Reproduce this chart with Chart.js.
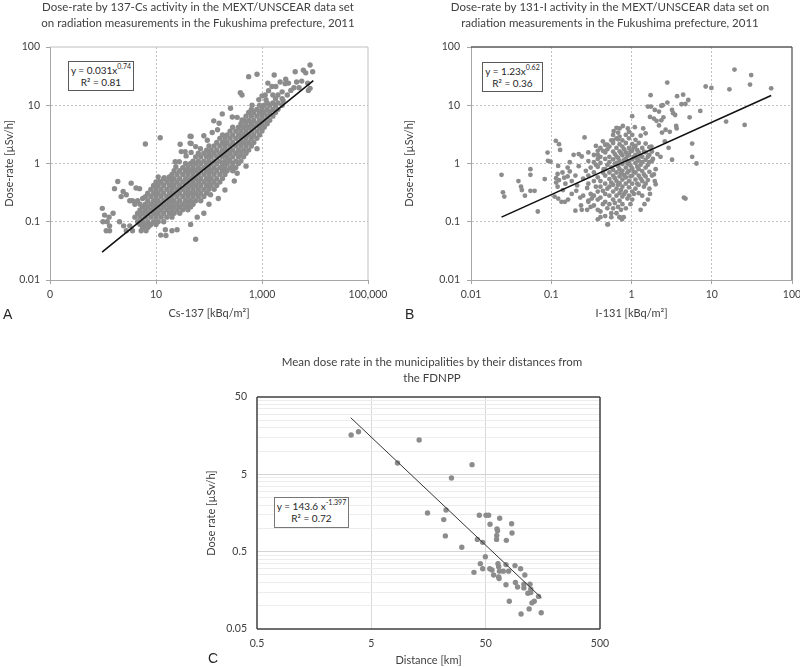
<!DOCTYPE html>
<html><head><meta charset="utf-8">
<script src="https://cdn.jsdelivr.net/npm/chart.js@4.4.0/dist/chart.umd.min.js"></script>
<style>
html,body{margin:0;padding:0;background:#fff;}
body{width:800px;height:667px;overflow:hidden;position:relative;font-family:Lato,sans-serif;}
canvas{position:absolute;}
.eq{position:absolute;background:#fff;border:1px solid #595959;font:10px Lato,sans-serif;color:#262626;text-align:center;line-height:12px;box-sizing:border-box;padding-top:2px;white-space:nowrap}
.eq sup{font-size:7px;line-height:7px;vertical-align:top;position:relative;top:-1px}
.letter{position:absolute;font:14px "Liberation Sans",Arial,sans-serif;color:#262626;line-height:14px}
</style></head>
<body>
<canvas id="cA" width="400" height="330" style="left:0;top:0"></canvas>
<canvas id="cB" width="410" height="330" style="left:400px;top:0"></canvas>
<canvas id="cC" width="420" height="337" style="left:200px;top:330px"></canvas>
<div class="eq" style="left:68px;top:61px;width:66px;height:30px">y = 0.031x<sup>0.74</sup><br>R² = 0.81</div>
<div class="eq" style="left:482px;top:62px;width:61px;height:30px">y = 1.23x<sup>0.62</sup><br>R² = 0.36</div>
<div class="eq" style="left:274px;top:497px;width:75px;height:31px;border-color:#777">y = 143.6 x<sup>-1.397</sup><br>R² = 0.72</div>
<div class="letter" style="left:3px;top:307px">A</div>
<div class="letter" style="left:405px;top:307px">B</div>
<div class="letter" style="left:208px;top:651px">C</div>
<script>
// ---------- titles ----------
const aTitle = ['Dose-rate by 137-Cs activity in the MEXT/UNSCEAR data set', 'on radiation measurements in the Fukushima prefecture, 2011'];
const bTitle = ['Dose-rate by 131-I activity in the MEXT/UNSCEAR data set on', 'radiation measurements in the Fukushima prefecture, 2011'];
const cTitle = ['Mean dose rate in the municipalities by their distances from', 'the FDNPP'];

// ---------- tick values / labels ----------
const aXTicks = [0.1, 10, 1000, 100000];
const aXLabels = ['0', '10', '1,000', '100,000'];
const doseTicks = [0.01, 0.1, 1, 10, 100];
const doseLabels = ['0.01', '0.1', '1', '10', '100'];
const bXTicks = [0.01, 0.1, 1, 10, 100];
const bXLabels = ['0.01', '0.1', '1', '10', '100'];
const cXTicks = [0.5, 5, 50, 500];
const cXLabels = ['0.5', '5', '50', '500'];
const cYTicks = [0.05, 0.5, 5, 50];
const cYLabels = ['0.05', '0.5', '5', '50'];
const cMinorSteps = [2, 3, 4, 5, 6, 7, 8, 9];

// ---------- panel A: Cs-137 [kBq/m2] vs dose-rate [uSv/h] ----------
// dense band, read column by column: [activity, [dose-rates]]
const csBand = [
 [4, [0.12, 0.2]],
 [4.5, [0.1, 0.14, 0.23]],
 [5, [0.09, 0.12, 0.16, 0.2]],
 [5.6, [0.08, 0.1, 0.14, 0.18, 0.25]],
 [6.3, [0.09, 0.12, 0.16, 0.2, 0.27]],
 [7, [0.08, 0.1, 0.14, 0.18, 0.23, 0.31]],
 [8, [0.09, 0.12, 0.16, 0.2, 0.27, 0.36]],
 [9, [0.1, 0.14, 0.18, 0.23, 0.31, 0.42]],
 [10, [0.09, 0.12, 0.16, 0.2, 0.27, 0.36, 0.48]],
 [11, [0.1, 0.14, 0.18, 0.23, 0.31, 0.42]],
 [12.5, [0.12, 0.16, 0.2, 0.27, 0.36, 0.48]],
 [14, [0.1, 0.14, 0.18, 0.23, 0.31, 0.42, 0.55]],
 [16, [0.12, 0.16, 0.2, 0.27, 0.36, 0.48]],
 [18, [0.14, 0.18, 0.23, 0.31, 0.42, 0.55]],
 [20, [0.12, 0.16, 0.2, 0.27, 0.36, 0.48, 0.65]],
 [22, [0.14, 0.18, 0.23, 0.31, 0.42, 0.55, 0.75]],
 [25, [0.16, 0.2, 0.27, 0.36, 0.48, 0.65]],
 [28, [0.14, 0.18, 0.23, 0.31, 0.42, 0.55, 0.75]],
 [32, [0.16, 0.2, 0.27, 0.36, 0.48, 0.65, 0.85]],
 [36, [0.18, 0.23, 0.31, 0.42, 0.55, 0.75, 1]],
 [40, [0.16, 0.2, 0.27, 0.36, 0.48, 0.65, 0.85]],
 [45, [0.18, 0.23, 0.31, 0.42, 0.55, 0.75, 1]],
 [50, [0.2, 0.27, 0.36, 0.48, 0.65, 0.85, 1.1]],
 [56, [0.23, 0.31, 0.42, 0.55, 0.75, 1, 1.3]],
 [63, [0.27, 0.36, 0.48, 0.65, 0.85, 1.1, 1.5]],
 [70, [0.23, 0.31, 0.42, 0.55, 0.75, 1, 1.3]],
 [80, [0.27, 0.36, 0.48, 0.65, 0.85, 1.1, 1.5]],
 [90, [0.31, 0.42, 0.55, 0.75, 1, 1.3, 1.7]],
 [100, [0.36, 0.48, 0.65, 0.85, 1.1, 1.5, 2]],
 [110, [0.42, 0.55, 0.75, 1, 1.3, 1.7]],
 [125, [0.36, 0.48, 0.65, 0.85, 1.1, 1.5, 2]],
 [140, [0.42, 0.55, 0.75, 1, 1.3, 1.7, 2.3]],
 [160, [0.48, 0.65, 0.85, 1.1, 1.5, 2, 2.7]],
 [180, [0.55, 0.75, 1, 1.3, 1.7, 2.3, 3.1]],
 [200, [0.65, 0.85, 1.1, 1.5, 2, 2.7]],
 [220, [0.75, 1, 1.3, 1.7, 2.3, 3.1]],
 [250, [0.85, 1.1, 1.5, 2, 2.7, 3.6]],
 [280, [0.75, 1, 1.3, 1.7, 2.3, 3.1, 4.2]],
 [320, [0.85, 1.1, 1.5, 2, 2.7, 3.6]],
 [360, [1, 1.3, 1.7, 2.3, 3.1, 4.2]],
 [400, [1.1, 1.5, 2, 2.7, 3.6, 4.8]],
 [450, [1.3, 1.7, 2.3, 3.1, 4.2, 5.5]],
 [500, [1.5, 2, 2.7, 3.6, 4.8, 6.5]],
 [560, [1.7, 2.3, 3.1, 4.2, 5.5, 7.5]],
 [630, [2, 2.7, 3.6, 4.8, 6.5, 8.5]],
 [700, [2.3, 3.1, 4.2, 5.5, 7.5]],
 [800, [2.7, 3.6, 4.8, 6.5, 8.5]],
 [900, [3.1, 4.2, 5.5, 7.5, 10]],
 [1000, [3.6, 4.8, 6.5, 8.5]],
 [1100, [4.2, 5.5, 7.5, 10]],
 [1250, [4.8, 6.5, 8.5, 11]],
 [1400, [5.5, 7.5, 10]],
 [1600, [6.5, 8.5, 11, 15]],
 [1800, [7.5, 10, 13]],
 [2000, [8.5, 11, 15]],
 [2400, [10, 13, 17]]
];
// scattered points around the band: [activity, dose-rate]
const csScatter = [
 [0.97,0.17],[1.07,0.13],[1.3,0.12],[1.55,0.14],[1.2,0.1],[1.0,0.1],[1.33,0.085],[1.15,0.07],[1.33,0.07],
 [2.05,0.1],[2.45,0.085],[2.75,0.07],[3.2,0.085],[3.6,0.07],[5.25,0.07],[6.5,0.07],[7.5,0.085],
 [12.3,0.059],[15,0.073],[20,0.07],[15.4,0.058],[25,0.073],
 [1.9,0.49],[1.65,0.37],[3.4,0.46],[4.2,0.38],[4.9,0.37],[2.4,0.33],[2.2,0.27],[2.75,0.29],[3.2,0.23],[3.6,0.23],
 [6.3,2.16],[12,2.76],[44,2.95],[28.6,2.14],[44,2.24],[35.5,1.6],[30,1.6],[46,1.55],[37,1.35],
 [23,1.07],[27.5,1.07],[23.7,0.88],[11,0.59],[14.3,0.57],[17.8,0.59],[11.5,0.49],[56,0.05],
 [560,31],[805,34],[1700,33],[1290,24],[1540,21],[1820,21],[2200,25],[2740,23.5],[3160,24],
 [4230,37.7],[6030,40],[6680,36],[8070,49],[9040,37.7],[5620,26],[8070,19.5],[7280,23.8],[7500,18],[5000,20],[4500,25],
 [390,16.4],[420,15],[1330,17.8],[1150,15],[1000,14.5],[1190,12.4],
 [255,8.9],[650,10],[870,12.5],[178,7.1],[275,6.3],[340,6.2],[420,5.6],
 [123,5.4],[155,4.9],[115,3.4],[145,3.8],[80,3],[93,2.5],[69,1.8],[56,1.95],[46,2.9],[46,2.2],
 [805,1.8],[340,0.68],[295,0.83],[237,1.15],[178,0.88],[107,0.29],
 [45,0.09],[60,0.12],[80,0.14],[100,0.2],[150,0.25],[200,0.35],[300,0.5],[500,0.9],
 [2500,12],[3000,15],[3500,18],[4000,20],[2800,28]
];
const csTrend = [[0.96, 0.03], [9300, 26.5]];

// ---------- panel B: I-131 [kBq/m2] vs dose-rate [uSv/h] ----------
const iCore = [
 [0.29, [0.22, 0.45, 0.62, 1.1, 1.55]],
 [0.31, [0.18, 0.3, 0.85]],
 [0.34, [0.19, 0.28, 0.5, 0.7, 1.05, 1.4]],
 [0.36, [0.4, 0.95, 2.0]],
 [0.38, [0.16, 0.24, 0.33, 0.58, 0.88, 1.2, 1.65]],
 [0.41, [0.15, 0.26, 0.4, 0.5, 1.02, 1.3, 1.85]],
 [0.44, [0.2, 0.34, 0.7, 2.4]],
 [0.47, [0.125, 0.22, 0.3, 0.45, 0.62, 0.8, 1.2, 1.55, 2.1]],
 [0.5, [0.17, 0.37, 0.95, 1.75]],
 [0.53, [0.2, 0.28, 0.4, 0.54, 0.7, 1.05, 1.3, 1.95]],
 [0.56, [0.14, 0.47, 0.86, 2.5]],
 [0.59, [0.17, 0.24, 0.33, 0.43, 0.62, 0.78, 1.18, 1.6, 2.25, 3.1]],
 [0.62, [0.21, 0.56, 0.98, 1.45]],
 [0.65, [0.14, 0.28, 0.37, 0.5, 0.7, 1.02, 1.32, 1.85, 2.7]],
 [0.68, [0.18, 0.43, 0.9, 1.25, 3.4]],
 [0.71, [0.12, 0.23, 0.31, 0.46, 0.6, 0.8, 1.12, 1.62, 2.15, 2.9, 4.0]],
 [0.74, [0.16, 0.35, 0.68, 1.5]],
 [0.77, [0.2, 0.27, 0.4, 0.53, 0.75, 0.98, 1.38, 1.95, 2.5]],
 [0.81, [0.3, 0.63, 1.15, 1.75]],
 [0.85, [0.17, 0.33, 0.45, 0.58, 0.85, 1.2, 1.55, 2.25, 3.1]],
 [0.89, [0.25, 0.7, 1.0, 1.35]],
 [0.93, [0.28, 0.39, 0.5, 0.75, 1.05, 1.4, 1.85, 2.7, 3.5]],
 [0.97, [0.2, 0.6, 0.92, 1.6]],
 [1.02, [0.24, 0.33, 0.45, 0.62, 0.82, 1.18, 1.65, 2.15, 3.1]],
 [1.07, [0.3, 0.72, 1.3, 1.9]],
 [1.12, [0.37, 0.53, 0.7, 1.02, 1.4, 2.0, 2.55]],
 [1.18, [0.45, 0.88, 1.2, 1.7]],
 [1.23, [0.31, 0.43, 0.62, 0.8, 1.12, 1.55, 2.25]],
 [1.3, [0.55, 0.95, 1.35]],
 [1.36, [0.28, 0.5, 0.74, 1.05, 1.3, 1.85]],
 [1.43, [0.4, 0.65, 1.6]],
 [1.5, [0.45, 0.6, 0.85, 1.15, 1.55, 2.2]],
 [1.6, [0.52, 0.95, 1.3]],
 [1.67, [0.37, 0.72, 1.05, 1.4, 1.9]],
 [1.8, [0.62, 1.1, 1.6]]
];
const iScatter = [
 [0.024,0.64],[0.025,0.32],[0.026,0.27],[0.039,0.5],[0.042,0.4],[0.043,0.35],[0.047,0.28],[0.055,0.8],[0.055,0.64],
 [0.055,0.34],[0.062,0.34],[0.083,0.54],[0.068,0.15],[0.09,1.54],[0.091,1.11],[0.098,1.08],[0.114,2.45],[0.125,2.15],
 [0.129,1.71],[0.122,0.91],[0.12,0.66],[0.138,0.7],[0.115,0.56],[0.125,0.52],[0.115,0.47],[0.12,0.4],[0.145,0.57],
 [0.11,0.27],[0.122,0.25],[0.134,0.22],[0.148,0.22],[0.162,0.24],
 [0.17,1.05],[0.17,0.73],[0.19,1.41],[0.22,1.45],[0.24,1.32],[0.26,2.8],[0.205,0.34],[0.23,0.26],[0.25,0.28],
 [0.2,0.155],[0.24,0.16],[0.28,0.16],[0.235,0.19],[0.29,0.23],[0.32,0.25],[0.33,0.28],[0.38,0.11],[0.5,0.09],
 [0.38,1.41],[0.44,1.65],[0.5,2.1],[0.59,2.48],[0.68,2.6],[0.65,4.1],[0.78,4.4],[0.56,0.12],[0.76,0.11],[0.8,0.12],
 [0.15,0.45],[0.16,0.6],[0.18,0.5],[0.2,0.62],[0.21,0.42],[0.22,0.9],[0.25,0.55],[0.27,0.75],[0.28,0.38],[0.18,0.3],
 [0.14,0.35],[0.16,0.85],[0.41,0.12],[0.51,0.09],[0.71,0.12],
 [2.79,24.5],[1.73,14.9],[3.7,14.3],[4.4,15.2],[5.1,12.3],[4.2,10.4],[4.7,10.5],[8.4,21],[9.9,19.8],[19.2,41],
 [16.6,18.8],[31,33],[30,22.6],[55,19.5],[15.1,5.25],[25.7,4.6],[7.2,8],[5.3,6.2],[5.7,2.2],[5.7,1.3],[6.45,1.0],
 [3.2,1.16],[2.9,1.86],[4.5,0.26],[4.7,0.25],[3.2,8.3],[3.3,7.3],[3.5,6.8],[3.6,4.4],[3.65,4.0],[2.35,9.8],
 [2.8,11.1],[1.95,8.3],[2.2,7.8],[2.05,5.4],[2.35,5.5],[2.4,3.4],[2.66,3.8],[3.0,3.5],
 [1.77,1.95],[1.85,1.2],[2.0,0.8],[1.95,0.5],[2.0,0.44],[1.7,0.3],[1.9,0.65],[2.1,1.45],[1.6,0.24],[1.45,0.2],[1.3,0.16],
 [2.3,1.3],[2.6,2.4],[2.2,4.5],[2.5,6.2],[1.9,5.9],[1.7,6.3],[1.6,9.5],[1.75,9.5],[2.45,10],[1.4,4.0],[1.5,3.3],
 [1.3,3.0],[1.1,4.2],[1.02,6.5],[0.9,4.0],[0.6,3.6],[0.45,0.8]
];
const iTrend = [[0.024, 0.12], [55, 14.7]];

// ---------- panel C: distance [km] vs mean dose rate [uSv/h] ----------
const distKm = [3.33,3.86,13.1,8.47,38,25.1,15.5,22.5,21.5,22.2,30.9,44,50.4,53.1,54.6,66.3,84.3,85,62.8,63.5,62.5,62.3,
 75.8,42.3,47.1,49.7,44.9,47.1,39.5,54.3,56.8,58.7,64.1,65,66,65,65.5,71.3,75.3,79.4,75.3,80.5,90.2,101,110,91,95,
 108,108,122,124,117,124,145,127,133,120,102,153];
const meanDose = [16.1,17.8,13.9,7.0,6.67,4.49,1.58,1.73,1.30,0.80,0.57,1.48,1.48,1.48,1.13,1.35,1.15,0.87,0.98,0.93,0.81,0.72,
 0.70,0.72,0.66,0.43,0.35,0.30,0.27,0.30,0.29,0.25,0.35,0.32,0.28,0.235,0.225,0.28,0.34,0.28,0.187,0.114,0.33,0.30,0.25,0.20,0.175,
 0.19,0.17,0.19,0.164,0.145,0.148,0.132,0.109,0.114,0.091,0.078,0.081];
const cTrend = [[3.3, 27], [154, 0.126]];

// ---------- helpers ----------
Chart.defaults.font.family = 'Lato, sans-serif';
Chart.defaults.color = '#404040';

const pts = arr => arr.map(([x, y]) => ({x, y}));
const cols = arr => arr.flatMap(([x, ys]) => ys.map(y => ({x, y})));
const same = (a, b) => Math.abs(a - b) <= Math.abs(b) * 1e-9;

function logAxis(o) {
  return {
    type: 'logarithmic', position: o.pos, min: o.min, max: o.max,
    afterBuildTicks: s => { s.ticks = o.values.map(v => ({value: v})); },
    afterFit: s => { if (o.pos === 'left') s.width = o.size; else s.height = o.size; },
    ticks: {
      autoSkip: false, maxRotation: 0, minRotation: 0, padding: o.tickPad,
      font: {size: 10.5}, color: '#404040',
      callback: v => { const i = o.labelValues.findIndex(t => same(v, t)); return i >= 0 ? o.labels[i] : ''; }
    },
    grid: {
      color: ctx => (ctx.tick ? o.gridColor(ctx.tick.value) : 'rgba(0,0,0,0)'),
      lineWidth: 1,
      drawTicks: o.tickLen > 0, tickLength: o.tickLen, tickColor: '#a6a6a6', tickWidth: 1
    },
    border: {display: o.border, color: '#a6a6a6', width: 1, dash: o.dash || []},
    title: {display: true, text: o.title, font: {size: 11}, color: '#404040', padding: o.titlePad}
  };
}

const titlePlugin = {
  id: 'panelTitle',
  afterDraw(chart, args, opts) {
    const ctx = chart.ctx;
    ctx.save();
    ctx.font = `${opts.size}px Lato, sans-serif`;
    ctx.fillStyle = '#404040';
    ctx.textAlign = 'center';
    ctx.textBaseline = 'middle';
    opts.lines.forEach((t, i) => ctx.fillText(t, opts.x, opts.y + i * opts.lh));
    ctx.restore();
  }
};
const framePlugin = {
  id: 'frame',
  afterDatasetsDraw(chart, args, opts) {
    const {ctx, chartArea: a} = chart;
    ctx.save();
    ctx.lineWidth = opts.width;
    ctx.strokeStyle = opts.color;
    ctx.beginPath();
    opts.sides.forEach(s => {
      if (s === 'top') { ctx.moveTo(a.left, a.top); ctx.lineTo(a.right, a.top); }
      if (s === 'right') { ctx.moveTo(a.right, a.top); ctx.lineTo(a.right, a.bottom); }
      if (s === 'bottom') { ctx.moveTo(a.left, a.bottom); ctx.lineTo(a.right, a.bottom); }
      if (s === 'left') { ctx.moveTo(a.left, a.top); ctx.lineTo(a.left, a.bottom); }
    });
    ctx.stroke();
    ctx.restore();
  }
};

function dashedGrid(min, max) {
  return v => (same(v, min) || same(v, max)) ? 'rgba(0,0,0,0)' : '#bfbfbf';
}

function makeChart(id, cfg) {
  return new Chart(document.getElementById(id), {
    type: 'scatter',
    data: {datasets: [
      {data: pts(cfg.trend), showLine: true, borderColor: cfg.trendColor, borderWidth: cfg.trendWidth, pointRadius: 0, fill: false},
      {data: cfg.points, pointRadius: cfg.r, pointBackgroundColor: '#8c8c8c', pointBorderWidth: 0, showLine: false}
    ]},
    options: {
      responsive: false, animation: false, events: [],
      layout: {padding: cfg.padding},
      plugins: {legend: {display: false}, tooltip: {enabled: false},
        panelTitle: cfg.title, frame: cfg.frame},
      scales: {x: cfg.x, y: cfg.y}
    },
    plugins: [titlePlugin, framePlugin]
  });
}

// ---------- Panel A ----------
makeChart('cA', {
  trend: csTrend, trendColor: '#111', trendWidth: 1.6, r: 2.7,
  points: cols(csBand).concat(pts(csScatter)),
  padding: {left: 0, top: 47, right: 32, bottom: 10},
  title: {lines: aTitle, x: 198, y: 7.5, lh: 15.5, size: 11.5},
  frame: {sides: ['top', 'right'], color: '#bfbfbf', width: 1},
  x: logAxis({pos: 'bottom', min: 0.1, max: 100000, values: aXTicks, labelValues: aXTicks, labels: aXLabels,
    size: 40, tickPad: 4, tickLen: 4, border: true, dash: [2, 2], gridColor: dashedGrid(0.1, 100000),
    title: 'Cs-137 [kBq/m²]', titlePad: {top: 0, bottom: 0}}),
  y: logAxis({pos: 'left', min: 0.01, max: 100, values: doseTicks, labelValues: doseTicks, labels: doseLabels,
    size: 50, tickPad: 6, tickLen: 4, border: true, dash: [2, 2], gridColor: dashedGrid(0.01, 100),
    title: 'Dose-rate [µSv/h]', titlePad: {top: 3, bottom: 0}})
});

// ---------- Panel B ----------
makeChart('cB', {
  trend: iTrend, trendColor: '#111', trendWidth: 1.6, r: 2.4,
  points: cols(iCore).concat(pts(iScatter)),
  padding: {left: 0, top: 47, right: 18, bottom: 10},
  title: {lines: bTitle, x: 210, y: 7.5, lh: 15.5, size: 11.5},
  frame: {sides: ['top', 'right'], color: '#595959', width: 1.3},
  x: logAxis({pos: 'bottom', min: 0.01, max: 100, values: bXTicks, labelValues: bXTicks, labels: bXLabels,
    size: 40, tickPad: 4, tickLen: 4, border: true, dash: [2, 2], gridColor: dashedGrid(0.01, 100),
    title: 'I-131 [kBq/m²]', titlePad: {top: 0, bottom: 0}}),
  y: logAxis({pos: 'left', min: 0.01, max: 100, values: doseTicks, labelValues: doseTicks, labels: doseLabels,
    size: 71, tickPad: 7, tickLen: 4, border: true, dash: [2, 2], gridColor: dashedGrid(0.01, 100),
    title: 'Dose-rate [µSv/h]', titlePad: {top: 3, bottom: 0}})
});

// ---------- Panel C ----------
const cYAll = [];
cYTicks.forEach((base, i) => {
  cYAll.push(base);
  if (i < cYTicks.length - 1) cMinorSteps.forEach(m => cYAll.push(base * m));
});
makeChart('cC', {
  trend: cTrend, trendColor: '#333', trendWidth: 1, r: 2.7,
  points: distKm.map((x, i) => ({x, y: meanDose[i]})),
  padding: {left: 0, top: 67, right: 20, bottom: 0},
  title: {lines: cTitle, x: 232, y: 32, lh: 16, size: 11.5},
  frame: {sides: ['top', 'right', 'bottom', 'left'], color: '#404040', width: 1.5},
  x: logAxis({pos: 'bottom', min: 0.5, max: 500, values: cXTicks, labelValues: cXTicks, labels: cXLabels,
    size: 38, tickPad: 8, tickLen: 0, border: false,
    gridColor: v => (same(v, 0.5) || same(v, 500)) ? 'rgba(0,0,0,0)' : '#d9d9d9',
    title: 'Distance [km]', titlePad: {top: 0, bottom: 0}}),
  y: logAxis({pos: 'left', min: 0.05, max: 50, values: cYAll, labelValues: cYTicks, labels: cYLabels,
    size: 57, tickPad: 10, tickLen: 0, border: false,
    gridColor: v => (same(v, 0.05) || same(v, 50)) ? 'rgba(0,0,0,0)' : (cYTicks.some(t => same(v, t)) ? '#d4d4d4' : '#ececec'),
    title: 'Dose rate [µSv/h]', titlePad: {top: 5, bottom: 0}})
});
</script>
</body></html>
